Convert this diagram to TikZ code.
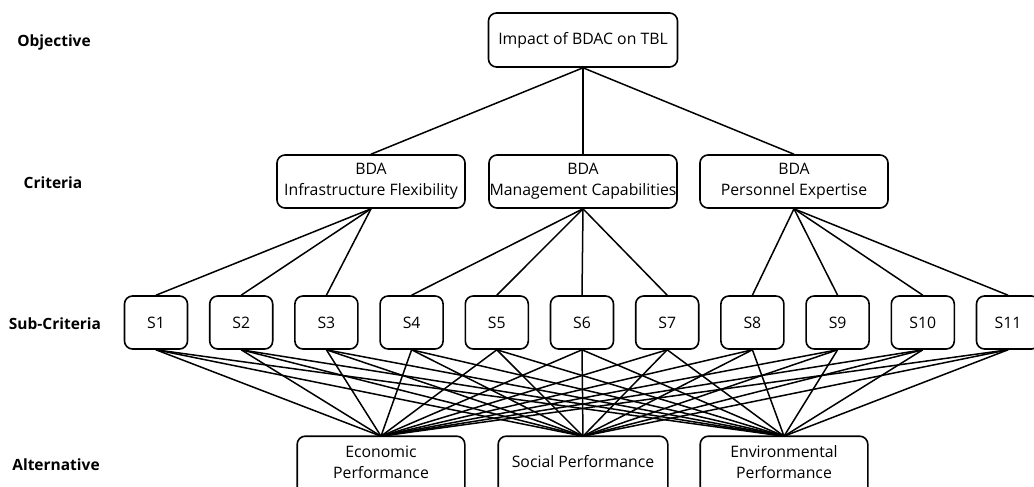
\documentclass[tikz,border=0pt]{standalone}
\usepackage{fontspec}
\setmainfont{Open Sans}
\begin{document}
\begin{tikzpicture}[x=1pt,y=-1pt,
  frame/.style={rounded corners=8pt, line width=1.6pt},
  box/.style={draw, frame, inner sep=0pt,
    align=center, font=\fontsize{15.8}{21}\selectfont},
  openbox/.style={box, draw=none},
  level/.style={font=\fontsize{15.5}{18}\selectfont\bfseries},
  link/.style={line width=1.5pt}]
\useasboundingbox (0,0) rectangle (1034,487);

% level labels
\node[level] (lobj) at (54,42) {Objective};
\node[level] (lcrit) at (53,183) {Criteria};
\node[level] (lsub) at (55,324) {Sub-Criteria};
\node[level] (lalt) at (56,465) {Alternative};

% objective
\node[box, minimum width=189pt, minimum height=54pt] (goal) at (583,40) {Impact of BDAC on TBL};

% criteria
\node[box, minimum width=188pt, minimum height=53pt] (c1) at (371,181.5) {BDA\\Infrastructure Flexibility};
\node[box, minimum width=188pt, minimum height=53pt] (c2) at (583,181.5) {BDA\\Management Capabilities};
\node[box, minimum width=188pt, minimum height=53pt] (c3) at (794,181.5) {BDA\\Personnel Expertise};

% sub-criteria
\foreach \i in {1,...,11} {
  \node[box, minimum width=63pt, minimum height=53pt] (s\i) at ({156+85.2*(\i-1)},322.5) {S\i};
}

% alternatives; their frames run past the lower edge
\node[openbox, minimum width=166pt, minimum height=50pt] (a1) at (381,462) {Economic\\Performance};
\node[openbox, minimum width=168pt, minimum height=50pt] (a2) at (583,462) {Social Performance};
\node[openbox, minimum width=166pt, minimum height=50pt] (a3) at (784,462) {Environmental\\Performance};
\foreach \a in {a1,a2,a3}
  \draw[frame] (\a.north west) rectangle ([yshift=-12pt]\a.south east);

% objective to criteria
\foreach \c in {c1,c2,c3} \draw[link] (goal.south) -- (\c.north);

% criteria to sub-criteria
\foreach \s in {1,2,3} \draw[link] (c1.south) -- (s\s.north);
\foreach \s in {4,5,6,7} \draw[link] (c2.south) -- (s\s.north);
\foreach \s in {8,9,10,11} \draw[link] (c3.south) -- (s\s.north);

% sub-criteria to alternatives
\foreach \s in {1,...,11}
  \foreach \a in {a1,a2,a3}
    \draw[link] (s\s.south) -- (\a.north);
\end{tikzpicture}
\end{document}
